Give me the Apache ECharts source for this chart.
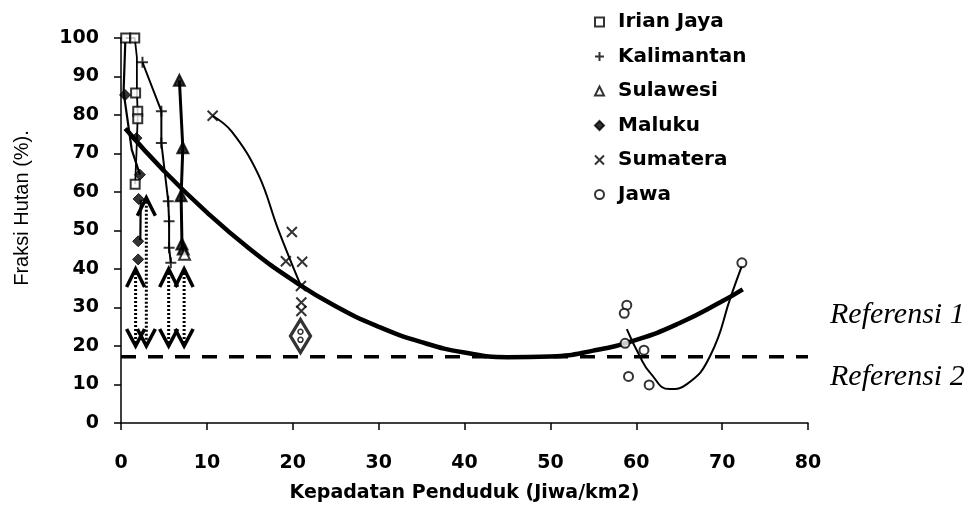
<!DOCTYPE html>
<html><head><meta charset="utf-8">
<script src="https://cdn.jsdelivr.net/npm/echarts@6/dist/echarts.min.js"></script>
<style>html,body{margin:0;padding:0;background:#fff}#c{width:978px;height:508px}</style>
</head><body><div id="c"></div>
<script>
// ---- data ----
const xTicks = [0, 10, 20, 30, 40, 50, 60, 70, 80];
const yTicks = [0, 10, 20, 30, 40, 50, 60, 70, 80, 90, 100];

const seriesNames = ['Irian Jaya', 'Kalimantan', 'Sulawesi', 'Maluku', 'Sumatera', 'Jawa'];

const irianJaya  = [[0.55,100],[1.6,100],[1.7,85.7],[1.95,81],[1.95,79],[1.65,62]];
const kalimantan = [[2.5,93.7],[4.7,81],[4.7,72.7],[5.5,57.6],[5.6,52.4],[5.6,45.5],[5.8,41.6]];
const sulawesi   = [[6.8,89],[7.2,71.5],[7.0,59],[7.1,46.5],[7.25,45.2],[7.4,43.8]];
const sulawesiFilled = [true,true,true,true,true,false];
const maluku     = [[0.47,85.2],[1.8,74],[2.2,64.5],[2.05,58.2],[2.0,47.2],[2.0,42.5]];
const sumatera   = [[10.67,79.8],[19.9,49.6],[19.2,42],[21.1,41.9],[20.95,35.6],[21,31.3],[21,29.1]];
const jawa       = [[58.9,30.6],[58.6,28.5],[58.7,20.7],[60.9,18.9],[59.1,12.1],[61.5,9.9],[72.3,41.6]];

// connecting lines as drawn in the figure
const irianPath    = [[0.55,100],[1.6,100],[1.85,95],[1.85,86],[1.95,80],[1.8,70],[1.65,62]];
const malukuPath   = [[0.5,99],[0.3,86],[1.25,71],[2.2,64.5],['-','-'],[2.3,58],[2.25,47.5]];
const kalimantanPath = kalimantan;
const sulawesiPath = sulawesi;
const sumateraPath = [[10.67,79.8],[12.9,75.7],[16,64.5],[18.3,50.3],[20.95,35.6]];
const jawaPath     = [[58.9,24.4],[60.4,17.4],[61.6,13.1],[63.9,8.8],[65.9,10.1],[68.6,17.4],[71.1,33.4],[72.3,40.8]];

// fitted curve (Referensi 1) and horizontal reference (Referensi 2)
const fitCurve = [[0.5,76.5],[5,65.5],[10,54.7],[15,45.2],[20,37.1],[25,30.3],[30,25],[35,21],[40,18.3],[45,17.1],[50,17.3],[55,18.8],[60,21.6],[65,25.9],[70,31.6],[72.4,34.7]];
const refLevel = 17.2;
const refRange = [0, 80];

// dotted double arrows (ranges)
const arrowX      = [1.7, 2.95, 5.55, 7.35];
const arrowTop    = [40, 58.5, 40, 40];
const arrowBottom = [20, 20, 20, 20];
// boxed diamond marker near Sumatera
const diamondMark = [[20.9,22.6]];
const diamondDots = [[20.9,23.7],[20.9,21.6]];

// ---- chart ----
const chart = echarts.init(document.getElementById('c'));
const BLACK = '#000';
const PLUS = 'path://M5,0L5,10M0,5L10,5';
const CROSS = 'path://M0,0L10,10M10,0L0,10';
const CHEV_UP = 'path://M0,18L9,0L18,18';
const CHEV_DN = 'path://M0,0L9,17L18,0';
const tickFont = {fontFamily:'DejaVu Sans', fontWeight:'bold', fontSize:19, color:BLACK};

function pathLine(data, width, z) {
  return {type:'line', data:data, showSymbol:false, symbol:'none', smooth:false, connectNulls:false,
    lineStyle:{color:BLACK, width:width}, silent:true, z:z||2, animation:false};
}

const series = [];
series.push(pathLine(irianPath, 1.8));
series.push(pathLine(malukuPath, 2.2));
series.push(pathLine(kalimantanPath, 2));
series.push(pathLine(sulawesiPath, 3));
series.push(Object.assign(pathLine(sumateraPath, 2), {smooth:0.4}));
series.push(Object.assign(pathLine(jawaPath, 2), {smooth:0.5}));
series.push(Object.assign(pathLine(fitCurve, 4.5, 3), {smooth:0.5}));
series.push({type:'line', data:refRange.map(x => [x, refLevel]), showSymbol:false, symbol:'none',
  lineStyle:{color:BLACK, width:3.5, type:[15,12]}, silent:true, z:2, animation:false});
arrowX.forEach((x, i) => {
  series.push({type:'line', animation:false, silent:true, z:4,
    lineStyle:{color:BLACK, width:3, type:[2,2]},
    itemStyle:{color:'rgba(0,0,0,0)', borderColor:BLACK, borderWidth:3.5},
    showSymbol:true, symbolKeepAspect:false,
    data:[
      {value:[x, arrowTop[i]], symbol:CHEV_UP, symbolSize:[18,18], symbolOffset:[0,9]},
      {value:[x, arrowBottom[i]], symbol:CHEV_DN, symbolSize:[18,17], symbolOffset:[0,-8.5]}
    ]});
});
series.push({type:'scatter', data:diamondMark, symbol:'diamond', symbolSize:[20,33], silent:true, z:5,
  itemStyle:{color:'#fff', borderColor:BLACK, borderWidth:3.5}, animation:false});
series.push({type:'scatter', data:diamondDots, symbol:'circle', symbolSize:5, silent:true, z:6,
  itemStyle:{color:'#fff', borderColor:BLACK, borderWidth:1.5}, animation:false});

series.push({name:'Irian Jaya', type:'scatter', data:irianJaya, symbol:'rect', symbolSize:9, z:6,
  itemStyle:{color:'#fff', borderColor:BLACK, borderWidth:2}, animation:false});
series.push({name:'Kalimantan', type:'scatter', data:kalimantan, symbol:PLUS, symbolSize:11, z:6,
  itemStyle:{color:'rgba(0,0,0,0)', borderColor:BLACK, borderWidth:2}, animation:false});
series.push({name:'Sulawesi', type:'scatter', symbol:'triangle', symbolSize:11, z:6,
  data:sulawesi.map((p, i) => sulawesiFilled[i] ? {value:p, itemStyle:{color:BLACK}} : {value:p}),
  itemStyle:{color:'#fff', borderColor:BLACK, borderWidth:2}, animation:false});
series.push({name:'Maluku', type:'scatter', data:maluku, symbol:'diamond', symbolSize:11, z:6,
  itemStyle:{color:BLACK, borderColor:BLACK, borderWidth:1}, animation:false});
series.push({name:'Sumatera', type:'scatter', data:sumatera, symbol:CROSS, symbolSize:10, z:6,
  itemStyle:{color:'rgba(0,0,0,0)', borderColor:BLACK, borderWidth:2}, animation:false});
series.push({name:'Jawa', type:'scatter', data:jawa, symbol:'circle', symbolSize:9, z:6,
  itemStyle:{color:'#fff', borderColor:BLACK, borderWidth:2}, animation:false});

chart.setOption({
  backgroundColor:'#fff',
  animation:false,
  grid:{left:121, right:170, top:38, bottom:84},
  legend:{
    data:seriesNames, orient:'vertical', left:594, top:12, padding:0,
    itemWidth:9, itemHeight:9, itemGap:14.5, selectedMode:false,
    textStyle:{fontFamily:'DejaVu Sans', fontWeight:'bold', fontSize:20, color:BLACK, lineHeight:20,
      padding:[0,0,0,9]}
  },
  xAxis:{
    type:'value', min:xTicks[0], max:xTicks[xTicks.length-1], interval:10,
    name:'Kepadatan Penduduk (Jiwa/km2)', nameLocation:'middle', nameGap:61,
    nameTextStyle:tickFont,
    axisLine:{lineStyle:{color:BLACK, width:1.5}},
    axisTick:{show:true, length:7, lineStyle:{color:BLACK, width:1.5}},
    axisLabel:Object.assign({margin:31}, tickFont),
    splitLine:{show:false}
  },
  yAxis:{
    type:'value', min:yTicks[0], max:yTicks[yTicks.length-1], interval:10,
    axisLine:{show:true, lineStyle:{color:BLACK, width:1.5}},
    axisTick:{show:true, length:7, lineStyle:{color:BLACK, width:1.5}},
    axisLabel:Object.assign({margin:22}, tickFont),
    splitLine:{show:false}
  },
  graphic:[
    {type:'text', x:22, y:208, rotation:Math.PI/2, silent:true,
      style:{text:'Fraksi Hutan (%).', align:'center', verticalAlign:'middle',
        font:'20px "Liberation Sans"', fill:BLACK}},
    {type:'text', x:830, y:315, silent:true,
      style:{text:'Referensi 1', align:'left', verticalAlign:'middle',
        font:'italic 30px "Liberation Serif"', fill:BLACK}},
    {type:'text', x:830, y:377, silent:true,
      style:{text:'Referensi 2', align:'left', verticalAlign:'middle',
        font:'italic 30px "Liberation Serif"', fill:BLACK}}
  ],
  series:series
});
</script></body></html>
